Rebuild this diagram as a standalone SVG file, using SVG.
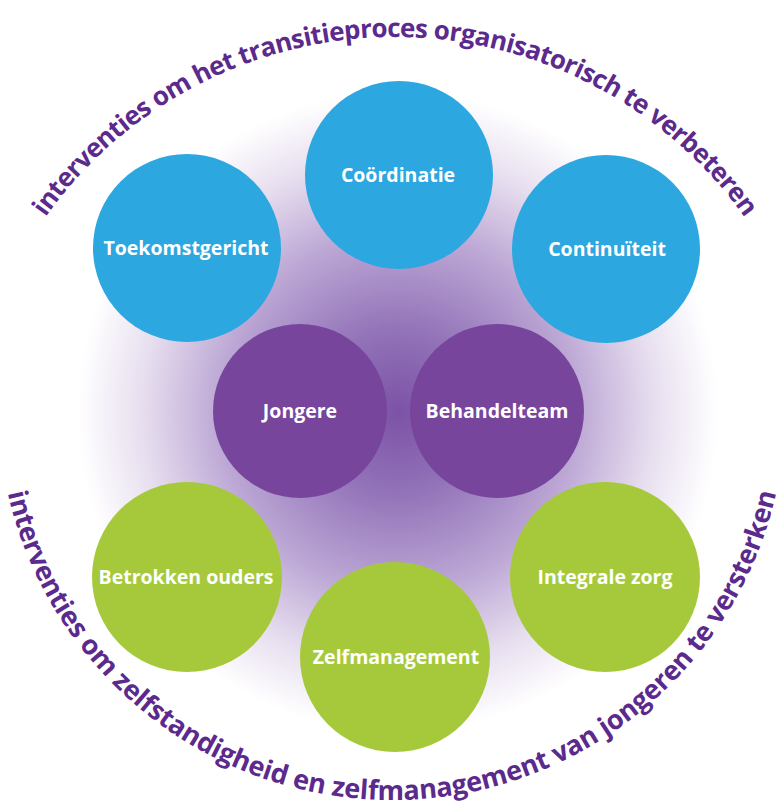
<svg xmlns="http://www.w3.org/2000/svg" xmlns:xlink="http://www.w3.org/1999/xlink" width="777" height="805" viewBox="0 0 777 805">
<style>
.lbl{font-family:"Open Sans","Noto Sans","Liberation Sans",sans-serif;font-weight:bold;font-size:19.5px;fill:#ffffff;text-anchor:middle}
.arc{font-family:"Open Sans","Noto Sans","Liberation Sans",sans-serif;font-weight:bold;fill:#5b2a8c}
.arc-t{font-size:26px;letter-spacing:-0.6px}
.arc-b{font-size:27px;letter-spacing:-0.2px}
.blue{fill:#2ca7df}
.green{fill:#a6c93c}
.purple{fill:#77459c}
</style>
<defs>
<radialGradient id="glow" cx="398" cy="412" r="320" gradientUnits="userSpaceOnUse">
<stop offset="0" stop-color="#7c52a6"/>
<stop offset="0.25" stop-color="#9272b8"/>
<stop offset="0.55" stop-color="#bba6d4"/>
<stop offset="0.8" stop-color="#e7deef"/>
<stop offset="1" stop-color="#ffffff"/>
</radialGradient>
<path id="topArc" d="M -34 466 A 429 429 0 0 1 824 466"/>
<path id="botArc" d="M -2 406 A 394 394 0 0 0 786 406"/>
</defs>
<rect width="777" height="805" fill="#ffffff"/>
<circle cx="398" cy="412" r="320" fill="url(#glow)"/>
<g id="arc-top">
<text class="arc arc-t"><textPath xlink:href="#topArc" href="#topArc" startOffset="50%" text-anchor="middle">interventies om het transitieproces organisatorisch te verbeteren</textPath></text>
</g>
<g id="arc-bottom">
<text class="arc arc-b"><textPath xlink:href="#botArc" href="#botArc" startOffset="50%" text-anchor="middle">interventies om zelfstandigheid en zelfmanagement van jongeren te versterken</textPath></text>
</g>
<g id="connectors"></g>
<g id="coordinatie"><circle class="blue" cx="399" cy="175" r="94"/><text class="lbl" x="398" y="182">Coördinatie</text></g>
<g id="toekomstgericht"><circle class="blue" cx="187" cy="248" r="94"/><text class="lbl" x="186" y="255">Toekomstgericht</text></g>
<g id="continuiteit"><circle class="blue" cx="606" cy="249" r="94"/><text class="lbl" x="607" y="256">Continuïteit</text></g>
<g id="jongere"><circle class="purple" cx="300" cy="411" r="87"/><text class="lbl" x="300" y="418">Jongere</text></g>
<g id="behandelteam"><circle class="purple" cx="497" cy="411" r="87"/><text class="lbl" x="497" y="418">Behandelteam</text></g>
<g id="betrokken-ouders"><circle class="green" cx="187" cy="577" r="95"/><text class="lbl" x="186" y="584">Betrokken ouders</text></g>
<g id="integrale-zorg"><circle class="green" cx="605" cy="577" r="95"/><text class="lbl" x="605" y="584">Integrale zorg</text></g>
<g id="zelfmanagement"><circle class="green" cx="395" cy="657" r="95"/><text class="lbl" x="396" y="664">Zelfmanagement</text></g>
</svg>
